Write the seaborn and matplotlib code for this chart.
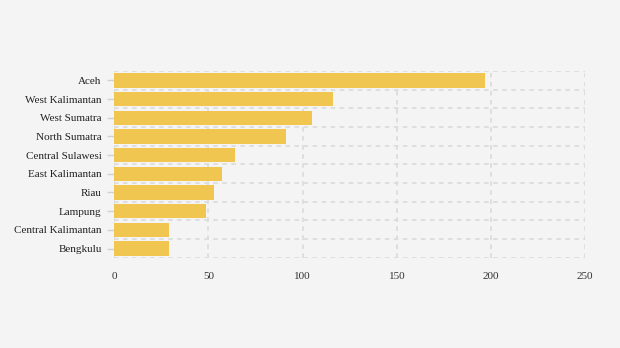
import matplotlib
matplotlib.use("Agg")
import matplotlib.pyplot as plt
import seaborn as sns
import pandas as pd

provinces = ["Aceh", "West Kalimantan", "West Sumatra", "North Sumatra", "Central Sulawesi",
             "East Kalimantan", "Riau", "Lampung", "Central Kalimantan", "Bengkulu"]
values = [197, 116, 105, 91, 64, 57, 53, 49, 29, 29]
xticks = [0, 50, 100, 150, 200, 250]

df = pd.DataFrame({"province": provinces, "value": values})

sns.set_theme(style="white")
plt.rcParams['font.family'] = ['Liberation Serif', 'DejaVu Serif']

fig = plt.figure(figsize=(6.2, 3.48), dpi=100)
fig.patch.set_facecolor("#f4f4f4")
ax = fig.add_axes([0.184, 0.259, 0.76, 0.537])
ax.set_facecolor("#f4f4f4")

sns.barplot(data=df, x="value", y="province", color="#f0c651", saturation=1,
            width=0.77, linewidth=0, edgecolor="none", ax=ax, zorder=3)

ax.set_xlim(0, 250)
ax.set_ylim(len(provinces) - 0.5, -0.5)
ax.set_xticks(xticks)
ax.set_xticklabels([str(t) for t in xticks], fontsize=8, color="#333333")
ax.set_yticklabels(provinces, fontsize=8, color="#222222")

grid_kw = dict(color="#dcdcdc", linewidth=1.3, linestyle=(0, (2.5, 2.5)), zorder=1)
for t in xticks:
    ax.axvline(t, **grid_kw)
for b in range(len(provinces) + 1):
    ax.axhline(b - 0.5, **grid_kw)

for s in ax.spines.values():
    s.set_visible(False)

ax.tick_params(axis="y", length=5, width=1, color="#d0d0d0", pad=4, left=True)
ax.tick_params(axis="x", length=0, pad=10)
ax.set_xlabel("")
ax.set_ylabel("")

fig.savefig("out.png", dpi=100, facecolor=fig.get_facecolor())
